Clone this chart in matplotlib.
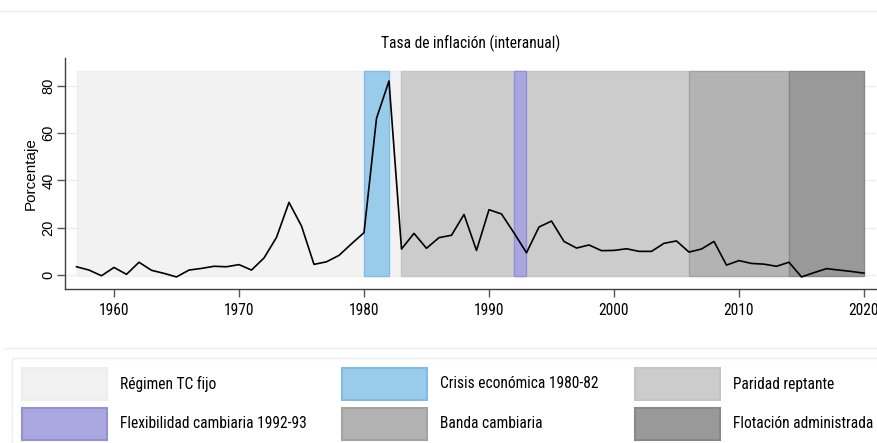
import numpy as np
import matplotlib.pyplot as plt
from matplotlib import font_manager
from matplotlib.patches import Rectangle
from matplotlib.lines import Line2D

# the source picture is squeezed sideways: use a condensed face if one is installed
names = {f.name for f in font_manager.fontManager.ttflist}
narrow = next((n for n in ['Liberation Sans Narrow', 'Roboto Condensed',
                           'Open Sans Condensed', 'Arial Narrow'] if n in names), None)
if narrow:
    plt.rcParams['font.family'] = [narrow, 'Liberation Sans', 'DejaVu Sans']
    fs = 11.2
else:
    plt.rcParams['font.family'] = ['Liberation Sans', 'DejaVu Sans']
    fs = 9.7
upright = ['Liberation Sans', 'DejaVu Sans']

# inflation series
years = list(range(1957, 2021))
inflation = [3.5, 2.1, -0.3, 3.2, 0.3, 5.4, 2.0, 0.7, -0.8, 2.1,
             2.8, 3.7, 3.5, 4.4, 2.1, 7.2, 15.9, 30.7, 20.7, 4.5,
             5.6, 8.3, 13.2, 17.9, 66.2, 82.0, 11.0, 17.6, 11.3, 15.8,
             16.8, 25.6, 10.4, 27.6, 25.8, 17.8, 9.4, 20.3, 22.8, 14.2,
             11.4, 12.7, 10.3, 10.4, 11.1, 10.0, 10.0, 13.4, 14.4, 9.7,
             11.0, 14.2, 4.2, 6.1, 4.9, 4.6, 3.7, 5.4, -0.8, 1.0,
             2.7, 2.1, 1.5, 0.8]

# exchange rate regimes
regimes = ['Régimen TC fijo', 'Crisis económica 1980-82', 'Paridad reptante',
           'Flexibilidad cambiaria 1992-93', 'Banda cambiaria', 'Flotación administrada']
reg_start = [1957, 1980, 1983, 1992, 2006, 2014]
reg_end = [1983, 1982, 2006, 1993, 2014, 2020]
reg_face = ['#f2f2f2', '#9bcbeb', '#cccccc', '#aaa6de', '#b3b3b3', '#999999']
reg_edge = ['#eeeeee', '#80bce6', '#c4c4c4', '#958fd6', '#a3a3a3', '#888888']
band_lo, band_hi = -0.4, 86

xticks = [1960, 1970, 1980, 1990, 2000, 2010, 2020]
yticks = [0, 20, 40, 60, 80]

W, H = 878, 443
fig = plt.figure(figsize=(W / 100, H / 100), dpi=100)
ax = fig.add_axes([65 / W, 1 - 289 / H, (876 - 65) / W, (289 - 58) / H])

# background grid
for t in yticks:
    ax.axhline(t, color='#e6eff2', lw=1, zorder=0)

# shaded regimes (fixed first so the crisis sits on top)
order = [0, 2, 1, 3, 4, 5]
for i in order:
    ax.bar(reg_start[i], band_hi - band_lo, width=reg_end[i] - reg_start[i],
           bottom=band_lo, align='edge', color=reg_face[i], edgecolor=reg_edge[i],
           linewidth=1, zorder=1)

ax.plot(years, inflation, color='black', lw=1.2, zorder=3)

ax.set_xlim(1956.08, 2020.96)
ax.set_ylim(-5.9, 91.7)
ax.set_xticks(xticks)
ax.set_yticks(yticks)
ax.tick_params(axis='x', length=6, width=1, color='#555555', labelsize=fs, pad=4)
ax.tick_params(axis='y', length=6, width=1, color='#555555', labelsize=10.5, pad=1)
for lab in ax.get_yticklabels():
    lab.set_rotation(90)
    lab.set_va('center')
    lab.set_family(upright)
for s in ['top', 'right']:
    ax.spines[s].set_visible(False)
for s in ['left', 'bottom']:
    ax.spines[s].set_color('#404040')
    ax.spines[s].set_linewidth(1)
ax.set_ylabel('Porcentaje', fontsize=11, family=upright)
ax.yaxis.set_label_coords(-27 / (876 - 65), 0.5)
ax.set_title('Tasa de inflación (interanual)', fontsize=fs, pad=7)

# frame lines of the graph region
fig.add_artist(Line2D([0, 1], [1 - 11 / H, 1 - 11 / H], color='#e8eff2', lw=1))
fig.add_artist(Line2D([5 / W, 1], [1 - 348 / H, 1 - 348 / H], color='#e8eff2', lw=1))
fig.add_artist(Rectangle((12 / W, -0.05), 1, 1 - 358 / H + 0.05, fill=False,
                         edgecolor='#e8eff2', lw=1, transform=fig.transFigure))

# legend drawn by hand
col_x = [22, 342, 635]
row_y = [368, 408]
for i, lab in enumerate(regimes):
    cx = col_x[i % 3]
    ry = row_y[i // 3]
    fig.add_artist(Rectangle((cx / W, 1 - (ry + 32) / H), 85 / W, 32 / H,
                             facecolor=reg_face[i], edgecolor=reg_edge[i], lw=1.5,
                             transform=fig.transFigure))
    fig.text((cx + 98) / W, 1 - (ry + 16) / H, lab, fontsize=fs, va='center', ha='left')

plt.savefig('out.png', dpi=100)
